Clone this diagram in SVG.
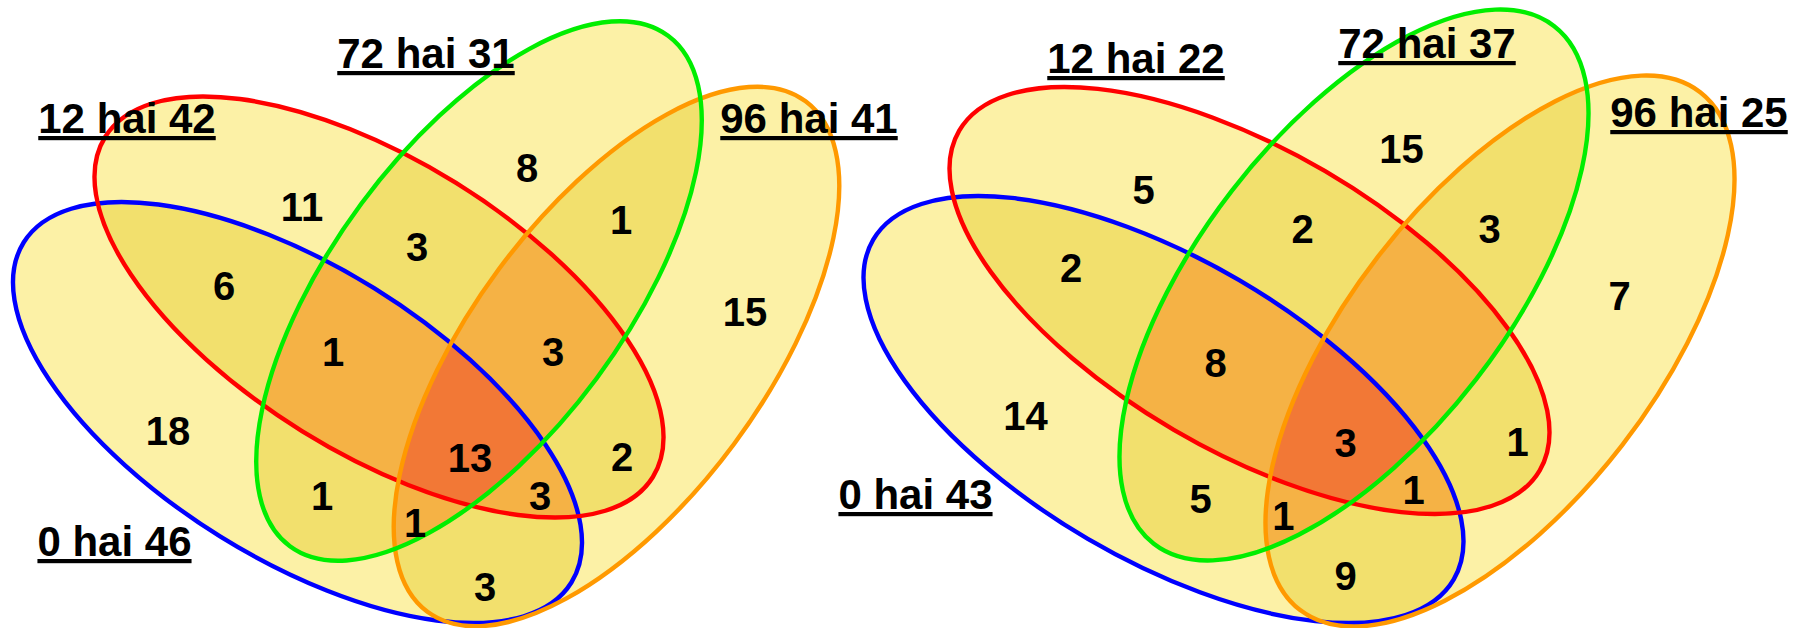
<svg xmlns="http://www.w3.org/2000/svg" xmlns:xlink="http://www.w3.org/1999/xlink" width="1806" height="628" viewBox="0 0 1806 628">
<style>
.l1{fill:#FCF1A6}
.l2{fill:#F2E06D}
.l3{fill:#F5B245}
.l4{fill:#F27836}
.ol{fill:none;stroke-width:4.4}
.sb{stroke:#0000FF}
.sr{stroke:#FF0000}
.sg{stroke:#00EE00}
.so{stroke:#FF9900}
.t{font-family:"Liberation Sans",Arial,sans-serif;font-weight:bold;font-size:42px;fill:#000;text-anchor:middle;text-decoration:underline}
.n{font-family:"Liberation Sans",Arial,sans-serif;font-weight:bold;font-size:40px;fill:#000;text-anchor:middle}
</style>
<defs>
<ellipse id="Lb" cx="0" cy="0" rx="322.35" ry="146.08" transform="translate(297.5 412.5) rotate(31.83)"/>
<ellipse id="Lr" cx="0" cy="0" rx="322.35" ry="146.08" transform="translate(379 307) rotate(31.83)"/>
<ellipse id="Lg" cx="0" cy="0" rx="317.67" ry="146.52" transform="translate(479 291) rotate(-53.47)"/>
<ellipse id="Lo" cx="0" cy="0" rx="317.67" ry="146.52" transform="translate(616.5 356.5) rotate(-53.47)"/>
<ellipse id="Rb" cx="0" cy="0" rx="336.3" ry="149.9" transform="translate(1163.5 409.5) rotate(30.33)"/>
<ellipse id="Rr" cx="0" cy="0" rx="336.3" ry="149.9" transform="translate(1249.5 300.5) rotate(30.33)"/>
<ellipse id="Rg" cx="0" cy="0" rx="327.2" ry="154.3" transform="translate(1354 285) rotate(-52.27)"/>
<ellipse id="Ro" cx="0" cy="0" rx="327.2" ry="154.3" transform="translate(1500 351) rotate(-52.27)"/>
<clipPath id="cLb"><use xlink:href="#Lb"/></clipPath>
<clipPath id="cLr"><use xlink:href="#Lr"/></clipPath>
<clipPath id="cLg"><use xlink:href="#Lg"/></clipPath>
<clipPath id="cLo"><use xlink:href="#Lo"/></clipPath>
<clipPath id="cRb"><use xlink:href="#Rb"/></clipPath>
<clipPath id="cRr"><use xlink:href="#Rr"/></clipPath>
<clipPath id="cRg"><use xlink:href="#Rg"/></clipPath>
<clipPath id="cRo"><use xlink:href="#Ro"/></clipPath>
</defs>

<g id="left-fills">
<g class="l1"><use xlink:href="#Lb"/><use xlink:href="#Lr"/><use xlink:href="#Lg"/><use xlink:href="#Lo"/></g>
<g class="l2">
<use xlink:href="#Lr" clip-path="url(#cLb)"/>
<use xlink:href="#Lg" clip-path="url(#cLb)"/>
<use xlink:href="#Lo" clip-path="url(#cLb)"/>
<use xlink:href="#Lg" clip-path="url(#cLr)"/>
<use xlink:href="#Lo" clip-path="url(#cLr)"/>
<use xlink:href="#Lo" clip-path="url(#cLg)"/>
</g>
<g class="l3">
<g clip-path="url(#cLb)"><use xlink:href="#Lg" clip-path="url(#cLr)"/></g>
<g clip-path="url(#cLb)"><use xlink:href="#Lo" clip-path="url(#cLr)"/></g>
<g clip-path="url(#cLb)"><use xlink:href="#Lo" clip-path="url(#cLg)"/></g>
<g clip-path="url(#cLr)"><use xlink:href="#Lo" clip-path="url(#cLg)"/></g>
</g>
<g class="l4"><g clip-path="url(#cLb)"><g clip-path="url(#cLr)"><use xlink:href="#Lo" clip-path="url(#cLg)"/></g></g></g>
</g>

<g id="right-fills">
<g class="l1"><use xlink:href="#Rb"/><use xlink:href="#Rr"/><use xlink:href="#Rg"/><use xlink:href="#Ro"/></g>
<g class="l2">
<use xlink:href="#Rr" clip-path="url(#cRb)"/>
<use xlink:href="#Rg" clip-path="url(#cRb)"/>
<use xlink:href="#Ro" clip-path="url(#cRb)"/>
<use xlink:href="#Rg" clip-path="url(#cRr)"/>
<use xlink:href="#Ro" clip-path="url(#cRr)"/>
<use xlink:href="#Ro" clip-path="url(#cRg)"/>
</g>
<g class="l3">
<g clip-path="url(#cRb)"><use xlink:href="#Rg" clip-path="url(#cRr)"/></g>
<g clip-path="url(#cRb)"><use xlink:href="#Ro" clip-path="url(#cRr)"/></g>
<g clip-path="url(#cRb)"><use xlink:href="#Ro" clip-path="url(#cRg)"/></g>
<g clip-path="url(#cRr)"><use xlink:href="#Ro" clip-path="url(#cRg)"/></g>
</g>
<g class="l4"><g clip-path="url(#cRb)"><g clip-path="url(#cRr)"><use xlink:href="#Ro" clip-path="url(#cRg)"/></g></g></g>
</g>

<g id="set-L0"><use xlink:href="#Lb" class="ol sb"/><text class="t" x="114.5" y="556">0 hai 46</text></g>
<g id="set-L12"><use xlink:href="#Lr" class="ol sr"/><text class="t" x="127" y="133">12 hai 42</text></g>
<g id="set-L96"><use xlink:href="#Lo" class="ol so"/><text class="t" x="809" y="133">96 hai 41</text></g>
<g id="set-L72"><use xlink:href="#Lg" class="ol sg"/><text class="t" x="426" y="68">72 hai 31</text></g>

<g id="set-R0"><use xlink:href="#Rb" class="ol sb"/><text class="t" x="915.5" y="509">0 hai 43</text></g>
<g id="set-R12"><use xlink:href="#Rr" class="ol sr"/><text class="t" x="1136" y="73">12 hai 22</text></g>
<g id="set-R96"><use xlink:href="#Ro" class="ol so"/><text class="t" x="1699" y="127">96 hai 25</text></g>
<g id="set-R72"><use xlink:href="#Rg" class="ol sg"/><text class="t" x="1427" y="58">72 hai 37</text></g>

<g id="left-counts" class="n">
<text class="n" x="302" y="221">11</text>
<text class="n" x="527" y="182">8</text>
<text class="n" x="417" y="261">3</text>
<text class="n" x="621" y="234">1</text>
<text class="n" x="745" y="326">15</text>
<text class="n" x="224" y="300">6</text>
<text class="n" x="333" y="366">1</text>
<text class="n" x="553" y="366">3</text>
<text class="n" x="168" y="445">18</text>
<text class="n" x="470" y="472">13</text>
<text class="n" x="622" y="471">2</text>
<text class="n" x="322" y="510">1</text>
<text class="n" x="540" y="510">3</text>
<text class="n" x="415" y="537">1</text>
<text class="n" x="485" y="601">3</text>
</g>

<g id="right-counts" class="n">
<text class="n" x="1143.5" y="204">5</text>
<text class="n" x="1401.5" y="163">15</text>
<text class="n" x="1302.5" y="243">2</text>
<text class="n" x="1489.6" y="243">3</text>
<text class="n" x="1619.7" y="310">7</text>
<text class="n" x="1071" y="282">2</text>
<text class="n" x="1215.7" y="377">8</text>
<text class="n" x="1025.4" y="430">14</text>
<text class="n" x="1345.7" y="457">3</text>
<text class="n" x="1517.6" y="456">1</text>
<text class="n" x="1200.7" y="513">5</text>
<text class="n" x="1413.5" y="504">1</text>
<text class="n" x="1283.3" y="530">1</text>
<text class="n" x="1345.7" y="590">9</text>
</g>
</svg>
